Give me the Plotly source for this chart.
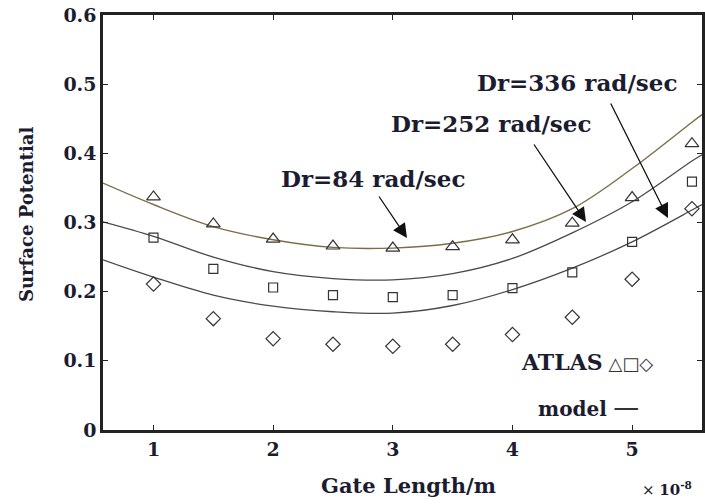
import plotly.graph_objects as go

# Gate length (x10^-8 m) at which ATLAS points were sampled
gate_length = [1.0, 1.5, 2.0, 2.5, 3.0, 3.5, 4.0, 4.5, 5.0, 5.5]
atlas_tri = [0.337, 0.298, 0.276, 0.266, 0.263, 0.265, 0.275, 0.299, 0.336, 0.414]
atlas_sq = [0.278, 0.233, 0.206, 0.195, 0.192, 0.195, 0.205, 0.228, 0.272, 0.359]
atlas_dia = [0.211, 0.161, 0.132, 0.124, 0.121, 0.124, 0.138, 0.163, 0.218, 0.320]

# model curves
model_x = [0.578, 1.0, 1.5, 2.0, 2.5, 3.0, 3.5, 4.0, 4.5, 5.0, 5.5, 5.584]
model_84 = [0.357, 0.326, 0.294, 0.275, 0.264, 0.263, 0.270, 0.287, 0.320, 0.378, 0.445, 0.456]
model_252 = [0.301, 0.280, 0.250, 0.229, 0.219, 0.217, 0.226, 0.248, 0.285, 0.330, 0.389, 0.398]
model_336 = [0.246, 0.221, 0.195, 0.179, 0.171, 0.169, 0.180, 0.203, 0.234, 0.272, 0.318, 0.326]

x_ticks = [1, 2, 3, 4, 5]
y_ticks = [0, 0.1, 0.2, 0.3, 0.4, 0.5, 0.6]

FONT = "DejaVu Serif"
TXT = "#1c1c30"
AX = "#222222"

fig = go.Figure()

fig.add_trace(go.Scatter(x=model_x, y=model_84, mode="lines",
                         line=dict(color="#7d6c48", width=1.4, shape="spline"), showlegend=False))
fig.add_trace(go.Scatter(x=model_x, y=model_252, mode="lines",
                         line=dict(color="#4a4a4a", width=1.3, shape="spline"), showlegend=False))
fig.add_trace(go.Scatter(x=model_x, y=model_336, mode="lines",
                         line=dict(color="#4a4a4a", width=1.3, shape="spline"), showlegend=False))

mk = dict(color="#333333", line=dict(width=1.2))
fig.add_trace(go.Scatter(x=gate_length, y=atlas_tri, mode="markers",
                         marker=dict(symbol="triangle-up-open", size=12, **mk), showlegend=False))
fig.add_trace(go.Scatter(x=gate_length, y=atlas_sq, mode="markers",
                         marker=dict(symbol="square-open", size=9, **mk), showlegend=False))
fig.add_trace(go.Scatter(x=gate_length, y=atlas_dia, mode="markers",
                         marker=dict(symbol="diamond-open", size=11, **mk), showlegend=False))

tickfont = dict(family=FONT, size=19, color=TXT)
fig.update_layout(
    width=705, height=504,
    margin=dict(l=103, r=3, t=15, b=74),
    paper_bgcolor="white", plot_bgcolor="white",
    xaxis=dict(range=[0.578, 5.584], tickvals=x_ticks, ticktext=["<b>%d</b>" % v for v in x_ticks],
               ticks="inside", ticklen=5, tickcolor=AX, tickfont=tickfont, mirror="ticks",
               showline=True, linecolor=AX, linewidth=2.5, showgrid=False, zeroline=False,
               automargin=False),
    yaxis=dict(range=[0, 0.6], tickvals=y_ticks, ticktext=["<b>%g</b>" % v for v in y_ticks],
               ticks="inside", ticklen=5, tickcolor=AX, tickfont=tickfont, mirror="ticks",
               showline=True, linecolor=AX, linewidth=2.5, showgrid=False, zeroline=False,
               automargin=False),
)


def px(xp):
    return (xp - 103) / 599


def py(yp):
    return (430 - yp) / 415


# axis titles
fig.add_annotation(xref="paper", yref="paper", x=px(26), y=py(214), textangle=-90,
                   text="<b>Surface Potential</b>", showarrow=False,
                   font=dict(family=FONT, size=18, color=TXT), xanchor="center", yanchor="middle")
fig.add_annotation(xref="paper", yref="paper", x=px(408), y=py(485),
                   text="<b>Gate Length/m</b>", showarrow=False,
                   font=dict(family=FONT, size=21, color=TXT), xanchor="center", yanchor="middle")

ann_font = dict(family=FONT, size=23, color=TXT)
labels = [
    ("<b>Dr=84 rad/sec</b>", 373, 178, 378, 195, 407, 238),
    ("<b>Dr=252 rad/sec</b>", 491, 123, 533, 143, 586, 222),
    ("<b>Dr=336 rad/sec</b>", 577, 82, 610, 102, 668, 218),
]
for text, tx, ty, ax0, ay0, ax1, ay1 in labels:
    fig.add_annotation(xref="paper", yref="paper", x=px(tx), y=py(ty),
                       text=text, showarrow=False, font=ann_font, xanchor="center", yanchor="middle")
    fig.add_annotation(xref="paper", yref="paper", x=px(ax1), y=py(ay1),
                       ax=ax0 - ax1, ay=ay0 - ay1, axref="pixel", ayref="pixel",
                       text="", showarrow=True, arrowhead=2, arrowsize=2.2, arrowwidth=1.3,
                       arrowcolor="#111111")

fig.add_annotation(xref="paper", yref="paper", x=px(519), y=py(362),
                   text="<b>ATLAS</b><span style='font-family:DejaVu Sans;font-size:18px;color:#333333'> △□◇</span>",
                   showarrow=False, font=dict(family=FONT, size=22, color=TXT),
                   xanchor="left", yanchor="middle")
fig.add_annotation(xref="paper", yref="paper", x=px(536), y=py(407),
                   text="<b>model</b> <span style='font-family:DejaVu Sans;font-size:26px;color:#333333'>—</span>",
                   showarrow=False, font=dict(family=FONT, size=20, color=TXT),
                   xanchor="left", yanchor="middle")
fig.add_annotation(xref="paper", yref="paper", x=px(640), y=py(489),
                   text="× <b>10</b><sup><b>-8</b></sup>", showarrow=False,
                   font=dict(family=FONT, size=15, color=TXT), xanchor="left", yanchor="middle")

fig.write_html("out.html", config={"displayModeBar": False},
               post_script="document.body.style.margin='0';")
